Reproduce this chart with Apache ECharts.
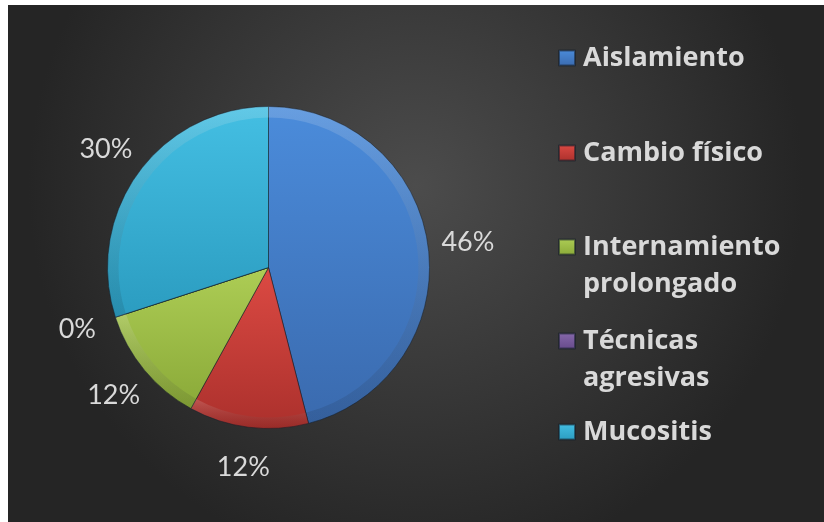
<!DOCTYPE html>
<html>
<head>
<meta charset="utf-8">
<style>
  html, body { margin: 0; padding: 0; background: #ffffff; }
  #chart { width: 824px; height: 522px; }
</style>
<script src="https://cdn.jsdelivr.net/npm/echarts@6/dist/echarts.min.js"></script>
</head>
<body>
<div id="chart"></div>
<script>
// Causes reported, share of respondents (%)
const categories = ['Aislamiento', 'Cambio físico', 'Internamiento prolongado', 'Técnicas agresivas', 'Mucositis'];
const values = [46, 12, 12, 0, 30];
// Legend text, wrapped as it is shown
const legendLabels = ['Aislamiento', 'Cambio físico', 'Internamiento\nprolongado', 'Técnicas\nagresivas', 'Mucositis'];

const sliceColors = [
  ['#4b8cdb', '#3a6aae'],
  ['#dc4a43', '#ab302c'],
  ['#adcd55', '#8aa938'],
  ['#8769ab', '#664a8a'],
  ['#44bfe3', '#2b9cc0']
];

const chart = echarts.init(document.getElementById('chart'), null, { renderer: 'canvas' });

const LEGEND_LEFT = 558;
const LEGEND_CENTERS = [58, 153, 247, 341, 432];
const LINE_H = 37;

function vGrad(c) {
  return new echarts.graphic.LinearGradient(0, 0, 0, 1, [
    { offset: 0, color: c[0] },
    { offset: 1, color: c[1] }
  ]);
}

const pieData = categories.map((name, i) => ({
  name: name,
  value: values[i],
  itemStyle: { color: vGrad(sliceColors[i]) }
}));

// One legend block per entry; wrapped entries get a blank leading line so
// the marker lines up with the first line of text.
const legends = categories.map((name, i) => {
  const lines = legendLabels[i].split('\n');
  const text = lines.length > 1 ? ' \n' + legendLabels[i] : legendLabels[i];
  const nLines = lines.length > 1 ? lines.length + 1 : 1;
  const boxH = LINE_H * nLines;
  return {
    data: [{ name: name, icon: 'rect' }],
    left: LEGEND_LEFT,
    top: LEGEND_CENTERS[i] - boxH / 2,
    padding: 0,
    itemWidth: 16,
    itemHeight: 15,
    itemGap: 9,
    selectedMode: false,
    formatter: () => text,
    textStyle: {
      color: '#d9d9d9',
      fontFamily: 'Open Sans',
      fontWeight: 'bold',
      fontSize: 27,
      lineHeight: LINE_H,
      padding: [0, 0, 0, 3]
    }
  };
});

chart.setOption({
  animation: false,
  color: sliceColors.map(c => c[0]),
  graphic: [{
    type: 'rect',
    left: 8,
    top: 5,
    shape: { width: 816, height: 517 },
    z: -10,
    style: {
      fill: new echarts.graphic.RadialGradient(0.5, 0.35, 0.75, [
        { offset: 0, color: '#4c4c4c' },
        { offset: 1, color: '#252525' }
      ])
    }
  }],
  legend: legends,
  series: [
    {
      type: 'pie',
      center: [268.5, 267.5],
      radius: 161,
      startAngle: 90,
      clockwise: true,
      avoidLabelOverlap: false,
      label: { show: false },
      labelLine: { show: false },
      itemStyle: {
        borderColor: 'rgba(20,30,40,0.55)',
        borderWidth: 1
      },
      emphasis: { disabled: true },
      data: pieData
    },
    {
      // soft rim highlight giving the slices a bevelled edge
      type: 'pie',
      center: [268.5, 267.5],
      radius: [150, 161],
      startAngle: 90,
      clockwise: true,
      silent: true,
      label: { show: false },
      labelLine: { show: false },
      itemStyle: {
        color: new echarts.graphic.LinearGradient(0, 0, 0, 1, [
          { offset: 0, color: 'rgba(255,255,255,0.16)' },
          { offset: 1, color: 'rgba(0,0,0,0.10)' }
        ]),
        borderWidth: 0
      },
      emphasis: { disabled: true },
      data: categories.map((name, i) => ({ name: name, value: values[i] })),
      legendHoverLink: false
    },
    {
      // transparent ring that carries the percentage labels around the pie
      type: 'pie',
      center: [268.5, 267.5],
      radius: [186, 210],
      startAngle: 90,
      clockwise: true,
      silent: true,
      itemStyle: { color: 'transparent' },
      label: {
        show: true,
        position: 'inside',
        formatter: p => values[p.dataIndex] + '%',
        color: '#d9d9d9',
        fontFamily: 'Lato',
        fontSize: 27,
        padding: [8, 0, 0, 0]
      },
      labelLine: { show: false },
      emphasis: { disabled: true },
      data: categories.map((name, i) => ({ name: name, value: values[i] }))
    }
  ]
});
</script>
</body>
</html>
